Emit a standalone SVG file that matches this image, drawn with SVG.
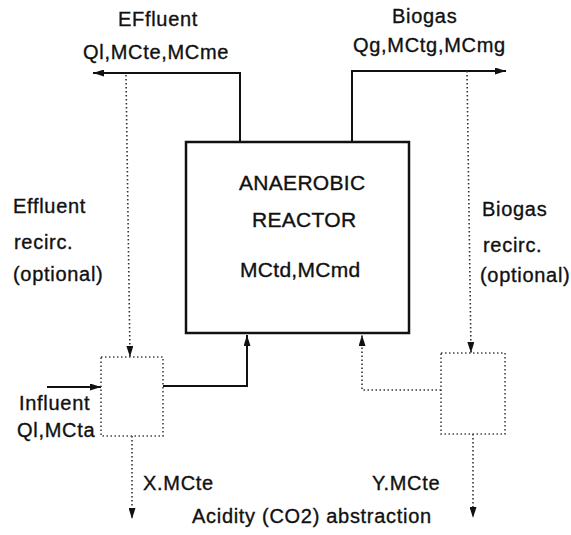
<svg xmlns="http://www.w3.org/2000/svg" width="571" height="535" viewBox="0 0 571 535">
<defs>
<style>
text{font-family:"Liberation Sans",Arial,Helvetica,sans-serif;fill:#111;stroke:#111;stroke-width:0.35px;}
.lbl{font-size:20px;letter-spacing:0.7px;}
.ctr{font-size:21px;letter-spacing:0.3px;}
.solid{fill:none;stroke:#111;stroke-width:2;}
.dot{fill:none;stroke:#333;stroke-width:1.6;stroke-dasharray:1.5 2.5;}
.box{fill:#fff;stroke:#111;stroke-width:2.5;}
.dbox{fill:none;stroke:#444;stroke-width:1.6;stroke-dasharray:1.5 2.5;}
</style>
<marker id="arr" viewBox="0 0 11 7" refX="11" refY="3.5" markerWidth="11" markerHeight="7" markerUnits="userSpaceOnUse" orient="auto">
<path d="M0,0 L11,3.5 L0,7 Z" fill="#111"/>
</marker>
</defs>
<rect width="571" height="535" fill="#fff"/>

<g id="connectors">
<path class="solid" d="M240,142 V73 H93" marker-end="url(#arr)"/>
<path class="solid" d="M352,142 V71 H506" marker-end="url(#arr)"/>
<path class="dot" d="M126,75 L130,357" marker-end="url(#arr)"/>
<path class="dot" d="M467,71 L471,353" marker-end="url(#arr)"/>
<path class="solid" d="M47,387 H101" marker-end="url(#arr)"/>
<path class="solid" d="M163,386 H247 V335" marker-end="url(#arr)"/>
<path class="dot" d="M132,436 V519" marker-end="url(#arr)"/>
<path class="dot" d="M441,390 H362 V335" marker-end="url(#arr)"/>
<path class="dot" d="M473,434 V518" marker-end="url(#arr)"/>
</g>

<g id="reactor">
<rect class="box" x="186" y="142" width="223" height="191"/>
<text class="ctr" x="239" y="190">ANAEROBIC</text>
<text class="ctr" x="252" y="227">REACTOR</text>
<text class="ctr" x="240" y="277">MCtd,MCmd</text>
</g>

<g id="mixer">
<rect class="dbox" x="101" y="357" width="62" height="79"/>
</g>

<g id="stripper">
<rect class="dbox" x="441" y="353" width="64" height="81"/>
</g>

<g id="effluent-label">
<text class="lbl" x="118" y="26">EFfluent</text>
<text class="lbl" x="83" y="59">Ql,MCte,MCme</text>
</g>

<g id="biogas-label">
<text class="lbl" x="392" y="23">Biogas</text>
<text class="lbl" x="353" y="52">Qg,MCtg,MCmg</text>
</g>

<g id="effluent-recirc-label">
<text class="lbl" x="13" y="213">Effluent</text>
<text class="lbl" x="14" y="249">recirc.</text>
<text class="lbl" x="13" y="281">(optional)</text>
</g>

<g id="biogas-recirc-label">
<text class="lbl" x="482" y="216">Biogas</text>
<text class="lbl" x="483" y="252">recirc.</text>
<text class="lbl" x="480" y="282">(optional)</text>
</g>

<g id="influent-label">
<text class="lbl" x="19" y="410">Influent</text>
<text class="lbl" x="17" y="437">Ql,MCta</text>
</g>

<g id="outputs-label">
<text class="lbl" x="143" y="490">X.MCte</text>
<text class="lbl" x="372" y="490">Y.MCte</text>
<text class="lbl" x="192" y="523">Acidity (CO2) abstraction</text>
</g>
</svg>
